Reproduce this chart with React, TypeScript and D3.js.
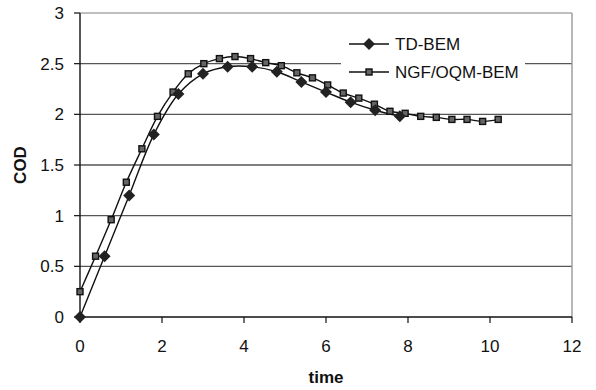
import React from "react";
import * as d3 from "d3";

const tdTime = [0, 0.6, 1.2, 1.8, 2.4, 3.0, 3.6, 4.2, 4.8, 5.4, 6.0, 6.6, 7.2, 7.8];
const tdCod = [0, 0.6, 1.2, 1.8, 2.2, 2.4, 2.47, 2.47, 2.42, 2.32, 2.22, 2.12, 2.04, 1.98];

const ngfTime = [
    0, 0.38, 0.76, 1.13, 1.51, 1.89, 2.27, 2.64, 3.02, 3.4, 3.78, 4.16, 4.53, 4.91,
    5.29, 5.67, 6.04, 6.42, 6.8, 7.18, 7.56, 7.93, 8.31, 8.69, 9.07, 9.44, 9.82, 10.2,
];
const ngfCod = [
    0.25, 0.6, 0.96, 1.33, 1.66, 1.98, 2.22, 2.4, 2.5, 2.55, 2.57, 2.55, 2.51, 2.48,
    2.41, 2.36, 2.29, 2.21, 2.16, 2.1, 2.03, 2.01, 1.98, 1.97, 1.95, 1.95, 1.93, 1.95,
];

const xTicks = [0, 2, 4, 6, 8, 10, 12];
const yTicks = [0, 0.5, 1, 1.5, 2, 2.5, 3];
const seriesNames = ["TD-BEM", "NGF/OQM-BEM"];

const W = 596;
const H = 390;
const margin = { top: 13, right: 24, bottom: 73, left: 80 };

const x = d3.scaleLinear().domain([0, 12]).range([margin.left, W - margin.right]);
const y = d3.scaleLinear().domain([0, 3]).range([H - margin.bottom, margin.top]);

const line = d3
    .line<[number, number]>()
    .x((d) => x(d[0]))
    .y((d) => y(d[1]))
    .curve(d3.curveCatmullRom.alpha(0.5));

const font = "Arial, 'Liberation Sans', Helvetica, sans-serif";

const Diamond = ({ cx, cy }: { cx: number; cy: number }) => (
    <path
        d={`M${cx},${cy - 6}L${cx + 6},${cy}L${cx},${cy + 6}L${cx - 6},${cy}Z`}
        fill="#222"
    />
);

const Square = ({ cx, cy }: { cx: number; cy: number }) => (
    <rect x={cx - 3} y={cy - 3} width={6} height={6} fill="#666" stroke="#111" strokeWidth={1.4} />
);

export default function App() {
    const td = tdTime.map((t, i) => [t, tdCod[i]] as [number, number]);
    const ngf = ngfTime.map((t, i) => [t, ngfCod[i]] as [number, number]);
    const x0 = x(0);
    const x1 = x(12);
    const yb = y(0);
    const yt = y(3);

    return (
        <svg
            width={W}
            height={H}
            style={{ position: "absolute", left: 0, top: 0, background: "#fff" }}
            fontFamily={font}
        >
            {/* gridlines */}
            {yTicks.slice(1, -1).map((v) => (
                <line key={v} x1={x0} x2={x1} y1={y(v)} y2={y(v)} stroke="#555" strokeWidth={1.4} />
            ))}
            <line x1={x0} x2={x1} y1={yt} y2={yt} stroke="#aaa" strokeWidth={1.4} />
            <line x1={x1} x2={x1} y1={yt} y2={yb} stroke="#999" strokeWidth={1.4} />

            {/* legend background */}
            <rect x={341} y={30} width={184} height={56} fill="#fff" />

            {/* axes */}
            <line x1={x0} x2={x0} y1={yt} y2={yb} stroke="#111" strokeWidth={1.4} />
            <line x1={x0} x2={x1} y1={yb} y2={yb} stroke="#111" strokeWidth={1.4} />
            {yTicks.map((v) => (
                <g key={v}>
                    <line x1={x0 - 6} x2={x0} y1={y(v)} y2={y(v)} stroke="#111" strokeWidth={1.2} />
                    <text x={x0 - 16} y={y(v)} dy="0.35em" textAnchor="end" fontSize={17} fill="#111">
                        {v}
                    </text>
                </g>
            ))}
            {xTicks.map((v) => (
                <g key={v}>
                    <line x1={x(v)} x2={x(v)} y1={yb} y2={yb + 6} stroke="#111" strokeWidth={1.2} />
                    <text x={x(v)} y={yb + 35} textAnchor="middle" fontSize={17} fill="#111">
                        {v}
                    </text>
                </g>
            ))}
            <text x={326} y={383} textAnchor="middle" fontSize={17} fontWeight="bold" fill="#111">
                time
            </text>
            <text
                transform={`translate(26,165) rotate(-90)`}
                textAnchor="middle"
                fontSize={17}
                fontWeight="bold"
                fill="#111"
            >
                COD
            </text>

            {/* series */}
            <path d={line(ngf) || ""} fill="none" stroke="#111" strokeWidth={1.4} />
            <path d={line(td) || ""} fill="none" stroke="#111" strokeWidth={1.4} />
            {ngf.map((d, i) => (
                <Square key={i} cx={x(d[0])} cy={y(d[1])} />
            ))}
            {td.map((d, i) => (
                <Diamond key={i} cx={x(d[0])} cy={y(d[1])} />
            ))}

            {/* legend */}
            <line x1={349} x2={389} y1={44} y2={44} stroke="#111" strokeWidth={1.4} />
            <Diamond cx={369} cy={44} />
            <text x={395} y={44} dy="0.35em" fontSize={17} fill="#111">
                {seriesNames[0]}
            </text>
            <line x1={349} x2={389} y1={72} y2={72} stroke="#111" strokeWidth={1.4} />
            <Square cx={369} cy={72} />
            <text x={395} y={72} dy="0.35em" fontSize={17} fill="#111">
                {seriesNames[1]}
            </text>
        </svg>
    );
}
